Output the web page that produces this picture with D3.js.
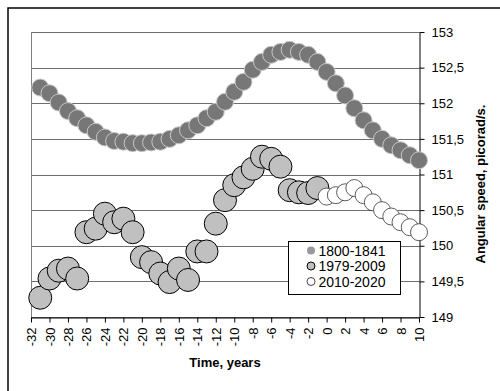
<!DOCTYPE html>
<html><head><meta charset="utf-8">
<script src="https://cdn.jsdelivr.net/npm/d3@7"></script>
<style>body{margin:0;background:#fff}svg{display:block;font-family:Arial,"Liberation Sans",sans-serif}</style>
</head><body><svg id="c" width="500" height="391"></svg>
<script>
// ---- data ----
const x1800 = [-31,-30,-29,-28,-27,-26,-25,-24,-23,-22,-21,-20,-19,-18,-17,-16,-15,-14,-13,-12,-11,-10,-9,-8,-7,-6,-5,-4,-3,-2,-1,0,1,2,3,4,5,6,7,8,9,10];
const v1800 = [152.22,152.14,152.01,151.89,151.79,151.69,151.60,151.52,151.47,151.46,151.44,151.44,151.45,151.46,151.50,151.55,151.62,151.69,151.79,151.88,152.02,152.16,152.30,152.47,152.58,152.68,152.72,152.75,152.72,152.68,152.58,152.44,152.28,152.11,151.93,151.76,151.62,151.50,151.41,151.34,151.27,151.20];
const x1979 = [-31,-30,-29,-28,-27,-26,-25,-24,-23,-22,-21,-20,-19,-18,-17,-16,-15,-14,-13,-12,-11,-10,-9,-8,-7,-6,-5,-4,-3,-2,-1];
const v1979 = [149.27,149.54,149.65,149.68,149.54,150.19,150.24,150.45,150.33,150.38,150.19,149.84,149.77,149.61,149.49,149.68,149.52,149.92,149.92,150.31,150.64,150.85,150.96,151.08,151.25,151.22,151.11,150.78,150.75,150.74,150.81];
const x2010 = [0,1,2,3,4,5,6,7,8,9,10];
const v2010 = [150.69,150.71,150.75,150.81,150.71,150.61,150.50,150.41,150.33,150.26,150.19];
const seriesNames = ["1800-1841","1979-2009","2010-2020"];
const xTicks = [-32,-30,-28,-26,-24,-22,-20,-18,-16,-14,-12,-10,-8,-6,-4,-2,0,2,4,6,8,10];
const yTicks = [149,149.5,150,150.5,151,151.5,152,152.5,153];
const xTitle = "Time, years";
const yTitle = "Angular speed, picorad/s.";

// ---- layout ----
const svg = d3.select("#c");
const L = 31, R = 419, T = 32, B = 317;
const x = d3.scaleLinear().domain([-32,10]).range([L,R]);
const y = d3.scaleLinear().domain([149,153]).range([B,T]);
const fmt = v => String(v).replace(".", ",");

// outer frame
svg.append("rect").attr("x",8).attr("y",8).attr("width",520).attr("height",420)
  .attr("fill","none").attr("stroke","#000").attr("stroke-width",1.5);

// gridlines
svg.append("g").selectAll("line").data(yTicks).join("line")
  .attr("x1",L).attr("x2",R).attr("y1",d=>Math.round(y(d))+0.5).attr("y2",d=>Math.round(y(d))+0.5)
  .attr("stroke","#6e6e6e").attr("stroke-width",1);
// left border
svg.append("line").attr("x1",L+0.5).attr("x2",L+0.5).attr("y1",T).attr("y2",B)
  .attr("stroke","#808080");

// right axis
const ya = svg.append("g").attr("transform",`translate(${R+0.5},0)`)
  .call(d3.axisRight(y).tickValues(yTicks).tickSize(5).tickSizeOuter(0).tickFormat(fmt));
ya.select(".domain").attr("stroke","#000");
ya.selectAll(".tick line").attr("stroke","#000");
ya.selectAll(".tick text").attr("x",12).attr("font-size",13).attr("font-family","Arial,'Liberation Sans',sans-serif").attr("fill","#000");

// bottom axis
const xa = svg.append("g").attr("transform",`translate(0,${B+0.5})`)
  .call(d3.axisBottom(x).tickValues(xTicks).tickSize(5).tickSizeOuter(0).tickFormat(d=>String(d)));
xa.select(".domain").attr("stroke","#000");
xa.selectAll(".tick line").attr("stroke","#000");
xa.selectAll(".tick text").attr("transform","rotate(-90)").attr("x",-10).attr("y",0)
  .attr("dy","0.35em").attr("text-anchor","end").attr("font-size",13)
  .attr("font-family","Arial,'Liberation Sans',sans-serif").attr("fill","#000");

// titles
svg.append("text").attr("x",(L+R)/2).attr("y",367).attr("text-anchor","middle")
  .attr("font-size",13).attr("font-weight","bold").text(xTitle);
svg.append("text").attr("transform",`translate(485,184) rotate(-90)`)
  .attr("text-anchor","middle").attr("font-size",13).attr("font-weight","bold").text(yTitle);

// series
const s1 = x1800.map((d,i)=>({x:d,v:v1800[i]}));
const s2 = x1979.map((d,i)=>({x:d,v:v1979[i]}));
const s3 = x2010.map((d,i)=>({x:d,v:v2010[i]}));
svg.append("g").selectAll("circle").data(s1).join("circle")
  .attr("cx",d=>x(d.x)).attr("cy",d=>y(d.v)).attr("r",8.5)
  .attr("fill","#777").attr("stroke","#c8c8c8").attr("stroke-width",1);
svg.append("g").selectAll("circle").data(s2).join("circle")
  .attr("cx",d=>x(d.x)).attr("cy",d=>y(d.v)).attr("r",11.5)
  .attr("fill","#c0c0c0").attr("stroke","#000").attr("stroke-width",1);
svg.append("g").selectAll("circle").data(s3).join("circle")
  .attr("cx",d=>x(d.x)).attr("cy",d=>y(d.v)).attr("r",8.5)
  .attr("fill","#fff").attr("stroke","#333").attr("stroke-width",0.8);

// legend
const lg = svg.append("g").attr("transform","translate(288.5,241.5)");
lg.append("rect").attr("width",112).attr("height",53).attr("fill","#fff").attr("stroke","#000");
const mk = [{f:"#999",s:"none"},{f:"#c0c0c0",s:"#000"},{f:"#fff",s:"#444"}];
seriesNames.forEach((n,i)=>{
  const cy = 9 + i*15.5;
  lg.append("circle").attr("cx",22.5).attr("cy",cy).attr("r",4).attr("fill",mk[i].f).attr("stroke",mk[i].s);
  lg.append("text").attr("x",30).attr("y",cy).attr("dy","0.36em").attr("font-size",14).text(n);
});
</script></body></html>
